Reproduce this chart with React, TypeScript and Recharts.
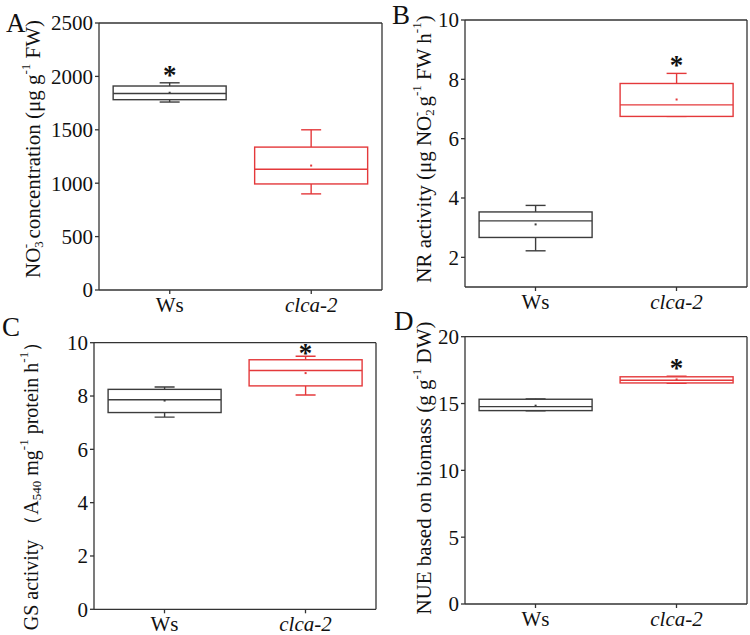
import React from 'react';
import { ComposedChart, Bar, XAxis, YAxis } from 'recharts';

const categories = ['Ws', 'clca-2'];
const boxColors = ['#3c3c3c', '#e4393b'];

// A: NO3- concentration
const nitrateHigh = [1940, 1500];
const nitrateQ3 = [1910, 1338];
const nitrateMedian = [1840, 1130];
const nitrateMean = [1847, 1165];
const nitrateQ1 = [1782, 993];
const nitrateLow = [1760, 900];
const nitrateSig = [true, false];

// B: NR activity
const nrHigh = [3.75, 8.2];
const nrQ3 = [3.53, 7.86];
const nrMedian = [3.23, 7.14];
const nrMean = [3.11, 7.32];
const nrQ1 = [2.67, 6.75];
const nrLow = [2.22, 6.75];
const nrSig = [false, true];

// C: GS activity
const gsHigh = [8.34, 9.49];
const gsQ3 = [8.25, 9.36];
const gsMedian = [7.86, 8.96];
const gsMean = [7.83, 8.86];
const gsQ1 = [7.38, 8.38];
const gsLow = [7.21, 8.04];
const gsSig = [false, true];

// D: NUE based on biomass
const nueHigh = [15.35, 17.05];
const nueQ3 = [15.32, 17.0];
const nueMedian = [14.77, 16.74];
const nueMean = [14.84, 16.8];
const nueQ1 = [14.47, 16.54];
const nueLow = [14.45, 16.52];
const nueSig = [false, true];

const nitrateTicks = [0, 500, 1000, 1500, 2000, 2500];
const nrTicks = [2, 4, 6, 8, 10];
const gsTicks = [0, 2, 4, 6, 8, 10];
const nueTicks = [0, 5, 10, 15, 20];

// axis titles: [text, 'n' | 'sup' | 'sub', stackOnPrevious?]
const nitrateTitle = [
  ['NO', 'n'], ['3', 'sub'], ['-', 'sup', true], [' concentration (μg g', 'n'], ['-1', 'sup'], [' FW)', 'n'],
];
const nrTitle = [
  ['NR activity (μg NO', 'n'], ['2', 'sub'], ['-', 'sup', true], [' g', 'n'], ['-1', 'sup'],
  [' FW h', 'n'], ['-1', 'sup'], [')', 'n'],
];
const gsTitle = [
  ['GS activity （A', 'n'], ['540', 'sub'], [' mg', 'n'], ['-1', 'sup'], [' protein h', 'n'], ['-1', 'sup'], ['）', 'n'],
];
const nueTitle = [['NUE based on biomass (g g', 'n'], ['-1', 'sup'], [' DW)', 'n']];

const FONT = '"Liberation Serif", "Times New Roman", serif';
const AXIS = '#333';
const Y_W = 50;
const X_H = 30;

function buildRows(high, q3, median, mean, q1, low, sig) {
  return categories.map((name, i) => ({
    name,
    high: high[i],
    q3: q3[i],
    median: median[i],
    mean: mean[i],
    q1: q1[i],
    low: low[i],
    sig: sig[i],
    color: boxColors[i],
  }));
}

function BoxShape(props: any) {
  const { x, y, width, height, payload, sigDrop = 1 } = props;
  const top = Math.min(y, y + height);
  const bottom = Math.max(y, y + height);
  const { high, low, color } = payload;
  const span = high - low;
  const toY = (v: number) => (span === 0 ? top : top + ((high - v) / span) * (bottom - top));
  const cx = x + width / 2;
  const yQ3 = toY(payload.q3);
  const yQ1 = toY(payload.q1);
  const yMed = toY(payload.median);
  const yMean = toY(payload.mean);
  const cap = 10;
  return (
    <g stroke={color} strokeWidth={1.4} fill="none">
      <line x1={cx} x2={cx} y1={top} y2={yQ3} />
      <line x1={cx} x2={cx} y1={yQ1} y2={bottom} />
      <line x1={cx - cap} x2={cx + cap} y1={top} y2={top} />
      <line x1={cx - cap} x2={cx + cap} y1={bottom} y2={bottom} />
      <rect x={x} y={yQ3} width={width} height={yQ1 - yQ3} fill="#fff" />
      <line x1={x} x2={x + width} y1={yMed} y2={yMed} />
      <rect x={cx - 1} y={yMean - 1} width={2} height={2} fill={color} stroke="none" />
      {payload.sig && (
        <text
          x={cx}
          y={top + sigDrop}
          textAnchor="middle"
          fontFamily={FONT}
          fontSize={27}
          fontWeight="bold"
          fill="#111"
          stroke="none"
        >
          *
        </text>
      )}
    </g>
  );
}

function CategoryTick(props: any) {
  const { x, y, payload } = props;
  return (
    <text
      x={x}
      y={y}
      dy="0.71em"
      textAnchor="middle"
      fontFamily={FONT}
      fontSize={21}
      fill="#111"
      fontStyle={payload.value === 'Ws' ? 'normal' : 'italic'}
    >
      {payload.value}
    </text>
  );
}

function YTitle({ cx, cy, parts, size = 21 }: any) {
  let shift = 0;
  const spans = parts.map((p: any, i: number) => {
    const [t, kind, stack] = p;
    const target = kind === 'sup' ? -8 : kind === 'sub' ? 5 : 0;
    const dy = target - shift;
    shift = target;
    return (
      <tspan key={i} dy={dy} dx={stack ? -7 : 0} fontSize={kind === 'n' ? size : 13}>
        {t}
      </tspan>
    );
  });
  return (
    <text
      x={cx}
      y={cy}
      transform={`rotate(-90 ${cx} ${cy})`}
      textAnchor="middle"
      dominantBaseline="central"
      fontFamily={FONT}
      fontSize={size}
      fill="#111"
    >
      {spans}
    </text>
  );
}

function BoxPanel({ left, top, width, height, plot, rows, domain, ticks, title, sigDrop }: any) {
  const margin = {
    left: plot[0] - left - Y_W,
    right: left + width - plot[1] - 1,
    top: plot[2] - top - 1,
    bottom: top + height - plot[3] - X_H,
  };
  return (
    <div style={{ position: 'absolute', left, top, width, height }}>
      <ComposedChart width={width} height={height} data={rows} margin={margin} barCategoryGap="10%">
        <XAxis
          dataKey="name"
          height={X_H}
          stroke={AXIS}
          strokeWidth={1.3}
          tickSize={4}
          tickMargin={3}
          tick={<CategoryTick />}
          interval={0}
        />
        <XAxis
          xAxisId="top"
          dataKey="name"
          orientation="top"
          height={1}
          stroke={AXIS}
          strokeWidth={1.3}
          tick={false}
          tickLine={false}
        />
        <YAxis
          width={Y_W}
          domain={domain}
          ticks={ticks}
          type="number"
          allowDataOverflow
          stroke={AXIS}
          strokeWidth={1.3}
          tickSize={4}
          tickMargin={2}
          tick={{ fontFamily: FONT, fontSize: 21, fill: '#111' }}
        />
        <YAxis
          yAxisId="right"
          orientation="right"
          width={1}
          domain={domain}
          type="number"
          stroke={AXIS}
          strokeWidth={1.3}
          tick={false}
          tickLine={false}
        />
        <Bar
          dataKey={(d: any) => [d.low, d.high]}
          shape={<BoxShape sigDrop={sigDrop} />}
          isAnimationActive={false}
        />
      </ComposedChart>
      <svg
        width={width}
        height={height}
        style={{ position: 'absolute', left: 0, top: 0, pointerEvents: 'none' }}
      >
        {title}
      </svg>
    </div>
  );
}

export default function App() {
  const nitrateRows = buildRows(nitrateHigh, nitrateQ3, nitrateMedian, nitrateMean, nitrateQ1, nitrateLow, nitrateSig);
  const nrRows = buildRows(nrHigh, nrQ3, nrMedian, nrMean, nrQ1, nrLow, nrSig);
  const gsRows = buildRows(gsHigh, gsQ3, gsMedian, gsMean, gsQ1, gsLow, gsSig);
  const nueRows = buildRows(nueHigh, nueQ3, nueMedian, nueMean, nueQ1, nueLow, nueSig);

  return (
    <div style={{ position: 'absolute', left: 0, top: 0, width: 750, height: 635, background: '#fff', overflow: 'hidden' }}>
      <BoxPanel
        left={0}
        top={0}
        width={390}
        height={340}
        plot={[99, 382, 23, 290]}
        rows={nitrateRows}
        domain={[0, 2500]}
        ticks={nitrateTicks}
        sigDrop={1}
        title={<YTitle cx={33} cy={149} parts={nitrateTitle} />}
      />
      <BoxPanel
        left={375}
        top={0}
        width={375}
        height={340}
        plot={[465, 747, 20, 287]}
        rows={nrRows}
        domain={[1, 10]}
        ticks={nrTicks}
        sigDrop={1}
        title={<YTitle cx={49} cy={149} parts={nrTitle} />}
      />
      <BoxPanel
        left={0}
        top={315}
        width={385}
        height={340}
        plot={[94, 376, 342.7, 609.3]}
        rows={gsRows}
        domain={[0, 10]}
        ticks={gsTicks}
        sigDrop={6}
        title={<YTitle cx={31} cy={166} parts={gsTitle} size={20} />}
      />
      <BoxPanel
        left={375}
        top={315}
        width={375}
        height={340}
        plot={[465, 747, 336.7, 604]}
        rows={nueRows}
        domain={[0, 20]}
        ticks={nueTicks}
        sigDrop={1}
        title={<YTitle cx={49} cy={153} parts={nueTitle} />}
      />
      <svg width={750} height={635} style={{ position: 'absolute', left: 0, top: 0, pointerEvents: 'none' }}>
        <g fontFamily={FONT} fontSize={27} fill="#111">
          <text x={6} y={32}>A</text>
          <text x={392} y={24}>B</text>
          <text x={2} y={336}>C</text>
          <text x={394} y={330}>D</text>
        </g>
      </svg>
    </div>
  );
}
